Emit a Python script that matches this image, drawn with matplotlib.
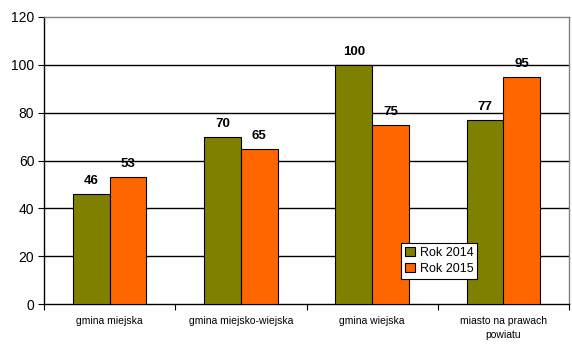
import numpy as np
import matplotlib
matplotlib.use('Agg')
import matplotlib.pyplot as plt
from matplotlib.ticker import FixedLocator

plt.rcParams['font.family'] = ['Liberation Sans', 'DejaVu Sans']

categories = ['gmina miejska', 'gmina miejsko-wiejska', 'gmina wiejska', 'miasto na prawach\npowiatu']
rok_2014 = [46, 70, 100, 77]
rok_2015 = [53, 65, 75, 95]
y_ticks = [0, 20, 40, 60, 80, 100, 120]

fig = plt.figure(figsize=(5.72, 3.48), dpi=100)
ax = fig.add_axes([44 / 572, 1 - 304 / 348, 525 / 572, 287 / 348])

x = np.arange(len(categories))
w = 0.28
b1 = ax.bar(x - w / 2, rok_2014, w, color='#808000', edgecolor='black', linewidth=0.8,
            label='Rok 2014', zorder=3)
b2 = ax.bar(x + w / 2, rok_2015, w, color='#FF6600', edgecolor='black', linewidth=0.8,
            label='Rok 2015', zorder=3)

for bars in (b1, b2):
    for rect in bars:
        h = rect.get_height()
        ax.annotate(f'{h:.0f}', (rect.get_x() + rect.get_width() / 2, h),
                    xytext=(0, 5), textcoords='offset points', ha='center', va='bottom',
                    fontsize=9.5, fontweight='bold', zorder=4)

ax.set_xlim(-0.5, len(categories) - 0.5)
ax.set_ylim(0, 120)
ax.set_yticks(y_ticks)
ax.tick_params(axis='y', labelsize=10, length=4, width=0.8, pad=3)
for v in y_ticks[1:-1]:
    ax.axhline(v, color='black', linewidth=1, zorder=1)

ax.set_xticks(x)
ax.set_xticklabels(categories, fontsize=7.5, linespacing=1.5)
ax.tick_params(axis='x', which='major', length=0, pad=9)
ax.xaxis.set_minor_locator(FixedLocator(np.arange(-0.5, len(categories), 1.0)))
ax.tick_params(axis='x', which='minor', length=4, width=0.8)

for s in ('top', 'right'):
    ax.spines[s].set_color('#808080')
    ax.spines[s].set_linewidth(1)
for s in ('left', 'bottom'):
    ax.spines[s].set_color('black')
    ax.spines[s].set_linewidth(1)

leg = ax.legend(loc='upper left', bbox_to_anchor=(357 / 525, 61 / 287), fontsize=9,
                frameon=True, fancybox=False, edgecolor='black', framealpha=1,
                handlelength=0.8, handleheight=0.8, handletextpad=0.4,
                borderpad=0.3, labelspacing=0.3, borderaxespad=0)
leg.get_frame().set_linewidth(0.8)

fig.savefig('out.png', dpi=100)
